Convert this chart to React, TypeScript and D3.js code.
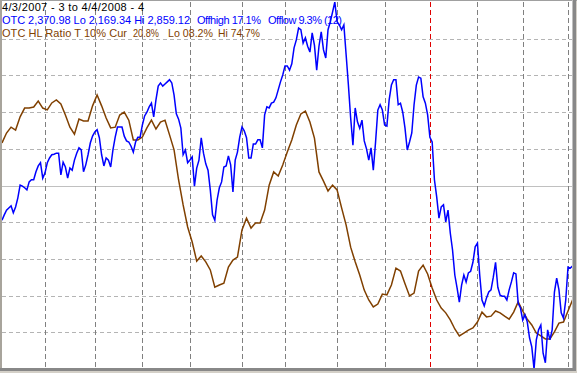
import React from "react";
import * as d3 from "d3";

// Trading-day index (0 = 4/3/2007) of each month's first session
const monthStarts = [19, 41, 62, 83, 106, 125, 148, 169, 189, 210, 230, 250];
const yearBreak = 189;
const lastDay = 253;

const titleText = "4/3/2007 - 3 to 4/4/2008 - 4";
const otcLabel = "OTC 2,370.98 Lo 2,169.34 Hi 2,859.12";
const offHighLabel = "Offhigh 17.1%";
const offLowLabel = "Offlow 9.3% (12)";
const hlLabel = "OTC HL Ratio T 10% Cur";
const hlCurLabel = "20.8%";
const hlLoLabel = "Lo 08.2%";
const hlHiLabel = "Hi 74.7%";

const otcLo = 2169.34;
const otcHi = 2859.12;

// OTC daily close, one value per trading day
const otcClose = [
  2449, 2459, 2468, 2472, 2476, 2463, 2474, 2491, 2515, 2513,
  2510, 2506, 2521, 2525, 2525, 2540, 2551, 2557, 2528, 2538,
  2557, 2566, 2572, 2573, 2575, 2575, 2534, 2558, 2549, 2528,
  2547, 2543, 2562, 2575, 2585, 2581, 2540, 2553, 2572, 2594,
  2607, 2615, 2619, 2604, 2572, 2551, 2566, 2562, 2549, 2581,
  2605, 2624, 2624, 2624, 2607, 2598, 2596, 2588, 2577, 2596,
  2605, 2605, 2628, 2645, 2652, 2662, 2669, 2643, 2675, 2701,
  2707, 2701, 2705, 2709, 2713, 2707, 2684, 2649, 2639, 2622,
  2572, 2581, 2557, 2562, 2568, 2513, 2547, 2562, 2604, 2575,
  2555, 2543, 2506, 2459, 2449, 2487, 2510, 2521, 2549, 2551,
  2570, 2553, 2502, 2562, 2577, 2605, 2624, 2617, 2604, 2566,
  2566, 2592, 2592, 2600, 2600, 2585, 2647, 2662, 2660, 2669,
  2671, 2679, 2694, 2709, 2722, 2739, 2739, 2731, 2743, 2773,
  2788, 2810, 2807, 2782, 2792, 2776, 2765, 2801, 2778, 2731,
  2776, 2803, 2769, 2754, 2807, 2822, 2840, 2859.12, 2822, 2816,
  2807, 2816, 2760, 2703, 2641, 2590, 2660, 2634, 2622, 2637,
  2598, 2583, 2562, 2585, 2543, 2596, 2656, 2666, 2656, 2628,
  2626, 2675, 2703, 2713, 2713, 2666, 2669, 2652, 2622, 2581,
  2596, 2613, 2666, 2703, 2718, 2716, 2681, 2669, 2647, 2605,
  2596, 2525, 2493, 2453, 2474, 2478, 2446, 2468, 2425, 2393,
  2346, 2322, 2295, 2327, 2346, 2333, 2350, 2353, 2370, 2399,
  2406, 2346, 2299, 2288, 2303, 2314, 2318, 2342, 2370, 2323,
  2308, 2306, 2306, 2299, 2318, 2333, 2350, 2348, 2293, 2284,
  2261, 2271, 2258, 2228, 2211, 2169.34, 2224, 2243, 2252, 2199,
  2181, 2243, 2224, 2243, 2314, 2340, 2318, 2275, 2265, 2299,
  2361, 2359, 2363, 2370.98,
];

// HL ratio (%), read every second trading day, plus the final day
const hlRatio = [
  61.6, 64.3, 65.9, 65.1, 68.7, 71.1, 71.1, 71.4, 73.0, 71.1,
  70.6, 72.5, 73.3, 72.2, 69.2, 65.9, 64.0, 68.1, 67.6, 67.6,
  71.7, 74.7, 71.7, 68.4, 65.7, 65.9, 69.2, 70.0, 67.8, 62.4,
  62.4, 63.2, 65.7, 67.8, 65.4, 67.3, 67.8, 63.8, 59.7, 51.5,
  44.7, 38.7, 34.6, 29.4, 30.8, 29.2, 27.0, 22.3, 22.9, 23.4,
  27.8, 29.7, 30.5, 37.9, 41.1, 38.4, 39.8, 39.8, 43.3, 50.1,
  53.7, 52.6, 55.6, 59.1, 62.4, 66.5, 69.5, 70.3, 67.3, 62.9,
  53.7, 51.2, 48.5, 50.1, 48.8, 43.9, 39.2, 33.2, 29.2, 25.6,
  21.5, 18.8, 16.9, 17.7, 20.4, 20.2, 22.9, 27.5, 26.7, 23.2,
  19.9, 20.7, 26.7, 28.3, 25.9, 22.1, 18.8, 16.6, 15.3, 13.4,
  10.9, 9.0, 9.8, 10.6, 11.2, 12.8, 15.5, 14.2, 14.4, 15.8,
  15.3, 14.4, 13.6, 15.5, 18.3, 15.8, 13.6, 12.0, 9.8, 9.0,
  8.2, 8.2, 10.1, 12.5, 12.8, 15.8, 18.8, 20.8,
];
const hlDays = d3.range(0, lastDay, 2).concat([lastDay]);

const gridPct = [10, 20, 30, 40, 60, 70, 80, 90];
const midPct = 50;

const W = 577;
const H = 373;
const FONT = "'Liberation Sans', Arial, sans-serif";

export default function App() {
  const left = 2, right = 572, top = 2, bottom = 368;
  const x = d3.scaleLinear().domain([0, lastDay]).range([2, 574.8]);
  const yOtc = d3.scaleLinear().domain([otcLo, otcHi]).range([369, 2]);
  const yHl = d3.scaleLinear().domain([0, 100]).range([369, 2]);

  const otcPath = d3
    .line<number>()
    .x((_, i) => x(i))
    .y((d) => yOtc(d))(otcClose) as string;
  const hlPath = d3
    .line<number>()
    .x((_, i) => x(hlDays[i]))
    .y((d) => yHl(d))(hlRatio) as string;

  const brown = "#804000";
  const blue = "#0000ff";

  return (
    <svg
      width={W}
      height={H}
      style={{ position: "fixed", left: 0, top: 0, display: "block" }}
      shapeRendering="crispEdges"
    >
      <defs>
        <clipPath id="plotClip">
          <rect x={left} y={top} width={right - left} height={bottom - top} />
        </clipPath>
      </defs>
      <rect x={0} y={0} width={W} height={H} fill="#d4d0c8" />
      <rect x={left} y={1} width={right - left} height={bottom - 1} fill="#ffffff" />

      {/* horizontal grid */}
      {gridPct.map((p) => (
        <line
          key={p}
          x1={left}
          x2={right}
          y1={Math.round(yHl(p)) + 0.5}
          y2={Math.round(yHl(p)) + 0.5}
          stroke="#b4b4b4"
          strokeDasharray="4 3"
        />
      ))}
      <line
        x1={left}
        x2={right}
        y1={Math.round(yHl(midPct)) + 0.5}
        y2={Math.round(yHl(midPct)) + 0.5}
        stroke="#c0c0c0"
      />

      {/* vertical month grid */}
      {monthStarts.map((d) => (
        <line
          key={d}
          x1={Math.round(x(d)) + 0.5}
          x2={Math.round(x(d)) + 0.5}
          y1={top}
          y2={bottom}
          stroke={d === yearBreak ? "#e00000" : "#808080"}
          strokeDasharray="5 3"
        />
      ))}

      <g clipPath="url(#plotClip)" shapeRendering="auto">
        <path d={hlPath} fill="none" stroke={brown} strokeWidth={1.5} strokeLinejoin="miter" />
        <path d={otcPath} fill="none" stroke={blue} strokeWidth={1.5} strokeLinejoin="miter" />
      </g>

      {/* labels */}
      <g fontFamily={FONT} fontSize={11} shapeRendering="auto">
        <text x={2} y={11} fill="#000000" textLength={142} lengthAdjust="spacing">
          {titleText}
        </text>
        <text x={2} y={24} fill={blue} textLength={188} lengthAdjust="spacing">
          {otcLabel}
        </text>
        <text x={197} y={24} fill={blue} textLength={64} lengthAdjust="spacing">
          {offHighLabel}
        </text>
        <text x={268} y={24} fill={blue} textLength={74} lengthAdjust="spacing">
          {offLowLabel}
        </text>
        <text x={2} y={37} fill={brown} textLength={125} lengthAdjust="spacing">
          {hlLabel}
        </text>
        <text x={133} y={37} fill={brown} textLength={26} lengthAdjust="spacingAndGlyphs">
          {hlCurLabel}
        </text>
        <text x={168} y={37} fill={brown} textLength={45} lengthAdjust="spacingAndGlyphs">
          {hlLoLabel}
        </text>
        <text x={218} y={37} fill={brown} textLength={42} lengthAdjust="spacingAndGlyphs">
          {hlHiLabel}
        </text>
      </g>

      {/* frame */}
      <rect x={0} y={0} width={W} height={1} fill="#a0a0a0" />
      <rect x={0} y={0} width={2} height={bottom} fill="#a8a49c" />
      <rect x={right} y={0} width={1} height={bottom} fill="#c0c0c0" />
      <rect x={right + 1} y={0} width={3} height={bottom + 3} fill="#888888" />
      <rect x={0} y={bottom} width={right + 1} height={3} fill="#888888" />
    </svg>
  );
}
